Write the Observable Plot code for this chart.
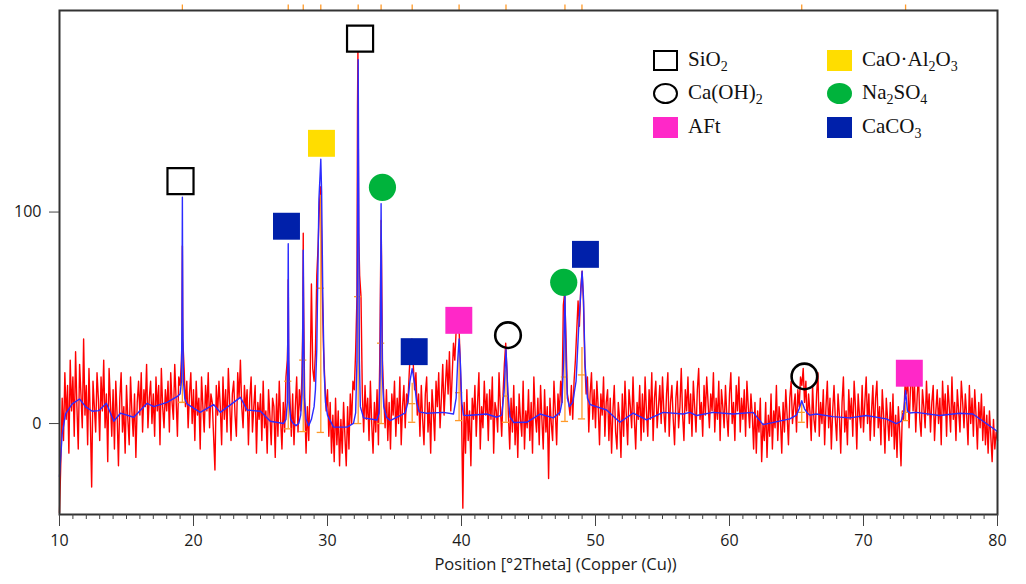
<!DOCTYPE html>
<html><head><meta charset="utf-8">
<script src="https://cdn.jsdelivr.net/npm/d3@7"></script>
<script src="https://cdn.jsdelivr.net/npm/@observablehq/plot@0.6"></script>
<style>
body{margin:0;background:#fff}
#wrap{position:relative;width:1026px;height:584px;overflow:hidden}
.lgt{position:absolute;font-family:"Liberation Serif","Times New Roman",serif;font-size:21px;color:#111;line-height:26px;height:26px;white-space:nowrap}
.lgt sub{font-size:14px;vertical-align:-5px;line-height:0}
.sym{position:absolute;box-sizing:border-box}
</style></head><body><div id="wrap"></div>
<script>
// ---- Data ----
const xTicks = [10, 20, 30, 40, 50, 60, 70, 80];
const yTicks = [0, 100];
const xLabel = "Position [°2Theta] (Copper (Cu))";

// measured (red) pattern, 10.0° to 80.0° every 0.1°
const redStart = 10, redStep = 0.1;
const redY = [
-42,-18,12,-8,24,2,18,-14,30,6,
22,-6,34,8,-12,28,14,-2,40,4,
18,-10,26,2,-30,20,8,-4,24,12,
-8,22,6,30,-2,14,-18,26,10,-6,
16,-12,20,4,-20,12,24,-4,8,-14,
18,2,-10,22,6,-6,14,-16,10,20,
4,24,-4,16,8,28,-2,12,20,0,
14,-6,22,6,18,-10,26,8,-2,16,
6,20,-4,24,10,2,28,12,-6,22,
18,30,40,26,8,20,-2,14,24,0,
16,-8,20,4,12,-12,22,8,-4,18,
6,24,-2,14,10,-6,-22,18,4,20,
8,-10,22,2,16,-4,26,10,-8,14,
20,4,-6,24,12,30,8,-2,18,6,
16,-10,12,22,-4,8,18,-14,10,2,
14,-8,20,-2,6,-14,16,4,-10,12,
8,-16,14,-6,20,2,-12,10,-4,22,
30,30,12,-6,14,-10,8,22,-4,16,
6,24,70,10,-14,8,-8,18,66,26,
20,34,70,84,104,112,66,36,20,6,
16,-6,10,-14,4,-18,12,-10,6,-20,
2,-14,10,-6,-20,8,-12,14,0,20,
16,34,60,130,70,60,14,-4,18,2,
12,-8,20,0,-14,10,-4,16,-10,30,
96,30,12,-2,16,-8,10,-12,14,4,
20,-6,12,0,22,-10,8,18,-2,14,
10,24,36,40,28,16,24,4,14,-6,
18,2,-10,14,22,-4,10,-14,16,6,
-8,20,8,24,-2,12,28,4,18,30,
14,34,6,22,38,30,44,54,48,30,
8,-40,10,-14,16,-8,6,-20,12,2,
18,-6,10,24,-12,8,-2,20,4,14,
-8,16,2,22,-14,10,6,-4,24,8,
-6,14,28,38,24,4,-12,12,-4,18,
-10,8,-16,14,2,-6,20,-12,6,-2,
16,-8,10,-14,22,4,-4,12,-10,18,
2,-12,16,-4,8,-26,12,0,-8,20,
6,-10,14,4,20,10,56,62,40,14,
10,4,18,2,20,30,44,58,46,64,
72,58,30,14,22,-4,14,24,2,16,
-2,20,8,-10,14,4,22,-6,10,16,
-8,12,-14,6,18,-4,-12,10,2,-16,
14,-6,20,4,-10,16,8,-2,22,2,
-12,10,2,18,-8,14,-4,22,6,-6,
16,2,24,-8,12,20,-2,8,18,0,
22,6,-4,14,24,-6,10,18,2,-10,
12,20,-2,8,26,4,-8,16,6,22,
0,14,-6,20,8,-4,16,26,2,10,
-6,18,4,22,10,-2,14,6,24,-4,
12,2,20,-8,16,8,-2,18,4,-6,
14,24,0,10,-8,18,6,22,-4,12,
2,16,-6,20,8,-2,14,4,-12,10,
-14,6,-4,12,-18,0,-8,10,-16,4,
-6,14,-12,6,-2,18,-8,8,2,-14,
10,-4,16,4,-10,12,20,0,8,14,
-4,16,8,22,18,26,10,20,-2,14,
6,-8,18,2,-4,14,24,-6,10,0,
16,-10,8,20,-2,12,-12,6,18,2,
-8,14,4,-14,10,22,-4,6,-10,16,
2,12,-6,20,8,-12,14,4,-2,18,
-4,10,22,0,14,-8,6,18,-6,12,
20,-2,8,-10,16,4,-14,12,2,-8,
10,-6,14,-12,4,-16,8,-4,-20,6,
2,18,14,22,-2,16,28,6,20,-4,
12,24,2,-6,16,8,-2,20,4,14,
-4,10,18,-8,6,16,0,12,-10,20,
4,14,-6,18,8,-4,22,2,10,-8,
16,6,-4,20,10,-2,14,4,-10,18,
0,12,-6,16,4,-12,10,-2,14,-8,
8,-10,4,-14,6,-6,-18,2,-12,-4,
-8];
// extra measured points on the sharp peaks
const redPeakX = [19.14, 19.17, 19.19, 27.04, 27.07, 27.09, 28.16, 28.19, 28.22, 32.24, 32.27, 32.33, 33.96, 34.03];
const redPeakY = [40, 84, 55, 40, 68, 45, 50, 90, 55, 150, 176, 90, 70, 80];

// fitted (blue) profile
const bluePts = [
[10.0,-25],[10.2,-5],[10.45,4.6],[10.95,9.3],[11.5,11.6],[11.94,8],[12.44,5.8],[12.93,6.1],[13.5,9.6],[14.05,1.1],
[14.55,4.9],[15.54,3],[16.54,9.6],[17.03,8],[18.03,10],[18.77,12.7],[19.0,14],[19.1,20],[19.14,50],[19.17,107],
[19.2,50],[19.25,20],[19.35,12],[19.52,9.3],[20.5,5.3],[21.5,9],[22.0,5.3],[23.5,12.4],[24.0,6.4],[25.0,5.8],
[25.73,1.1],[26.72,0],[26.9,2],[27.0,10],[27.04,40],[27.07,85],[27.1,40],[27.14,10],[27.25,2],[27.45,0],
[27.65,-1],[27.85,0],[28.0,4],[28.1,14],[28.15,40],[28.19,82],[28.23,40],[28.28,12],[28.4,2],[28.6,-1],
[28.8,2],[29.0,8],[29.1,16],[29.2,35],[29.3,80],[29.36,106],[29.45,118],[29.5,125],[29.56,110],[29.65,60],
[29.75,25],[29.85,10],[30.0,4],[30.2,1.4],[30.45,-1.7],[31.45,-1.7],[31.94,0.1],[32.1,5],[32.2,30],[32.25,110],
[32.29,172],[32.33,110],[32.38,30],[32.45,8],[32.69,2.7],[33.69,1.7],[33.85,5],[33.93,25],[33.97,70],[34.0,104],
[34.04,60],[34.1,22],[34.2,8],[34.4,3],[34.68,1.4],[35.42,3.8],[35.8,5],[36.0,10],[36.15,20],[36.32,26],
[36.5,19],[36.65,10],[36.85,5.5],[37.4,4.9],[38.65,5.3],[39.4,4.5],[39.6,12],[39.72,30],[39.82,40],[39.92,28],
[40.02,10],[40.15,4],[40.4,3.8],[41.88,4.5],[42.63,3],[43.0,4],[43.18,15],[43.32,35],[43.46,15],[43.62,3],
[43.9,0.5],[44.87,0.6],[45.86,4.5],[46.85,2.7],[47.35,5.3],[47.5,10],[47.62,30],[47.72,62],[47.8,30],[47.9,12],
[48.05,8],[48.3,10],[48.55,20],[48.75,46],[48.9,62],[49.0,72],[49.1,60],[49.22,28],[49.4,12],[49.6,9],
[49.83,8.5],[50.83,6.4],[51.82,0.6],[52.81,4.9],[53.81,1.7],[55.05,5.3],[56.54,4.5],[57.04,5.3],[57.54,3.8],[58.78,5.3],
[60.27,4.5],[61.76,5.3],[62.51,-0.5],[64.5,2.2],[65.0,4],[65.2,7],[65.39,10.8],[65.6,7],[65.8,5],[66.0,4],
[66.48,4.5],[67.72,3.3],[68.97,2.7],[70.21,3.8],[71.7,2.2],[72.44,0],[72.8,1],[73.0,5],[73.14,15.6],[73.28,6],
[73.45,5],[73.94,5.3],[75.67,3.8],[77.17,4.9],[78.16,4.5],[79.9,-3.3],[80,-4]];

// reference pattern sticks (orange)
const stickX      = [19.17, 27.07, 28.19, 29.5, 32.29, 34.0, 36.32, 39.82, 43.32, 47.72, 48.99, 65.39, 73.14];
const stickBottom = [10, -2.5, -3.8, -4.2, 0, 0, 0.6, 1.4, 0.6, 1, 2.2, 0.6, 1.4];
const stickMid    = [10, 20, 30, 64, 60, 38, 9.4, 14.6, 13, 22, 23, 5.3, 5.3];
const stickTop    = [50, 38, 60, 108, 120, 95, 19, 34, 25, 59, 36, 10, 10];

// phase markers
const markerPhase = ["SiO2","CaCO3","CaO·Al2O3","SiO2","Na2SO4","CaCO3","AFt","Ca(OH)2","Na2SO4","CaCO3","Ca(OH)2","AFt"];
const markerX = [19.03, 26.94, 29.55, 32.43, 34.1, 36.47, 39.8, 43.47, 47.63, 49.25, 65.59, 73.42];
const markerY = [114.6, 93.3, 132.5, 182, 111.7, 34, 48.8, 41.8, 66.8, 80, 22.3, 23.8];

// legend
const legendPhases = ["SiO2","Ca(OH)2","AFt","CaO·Al2O3","Na2SO4","CaCO3"];
const legendHtml = ["SiO<sub>2</sub>","Ca(OH)<sub>2</sub>","AFt","CaO·Al<sub>2</sub>O<sub>3</sub>","Na<sub>2</sub>SO<sub>4</sub>","CaCO<sub>3</sub>"];

// styles per phase
const phaseStyle = {
  "SiO2":      {symbol:"square", fill:"#ffffff", stroke:"#000000", r:14.7, sw:2.2},
  "Ca(OH)2":   {symbol:"circle", fill:"none",    stroke:"#000000", r:12.8, sw:2.6},
  "AFt":       {symbol:"square", fill:"#ff28c8", stroke:"none",    r:15.2, sw:0},
  "CaO·Al2O3": {symbol:"square", fill:"#ffdd00", stroke:"none",    r:15.2, sw:0},
  "Na2SO4":    {symbol:"circle", fill:"#00b33c", stroke:"none",    r:13.6, sw:0},
  "CaCO3":     {symbol:"square", fill:"#0020aa", stroke:"none",    r:15.2, sw:0}
};

// ---- Build tables ----
const red = redY.map((y, i) => ({x: +(redStart + i * redStep).toFixed(2), y}));
redPeakX.forEach((x, i) => red.push({x, y: redPeakY[i]}));
red.sort((a, b) => a.x - b.x);
const blue = bluePts.map(([x, y]) => ({x, y}));
const sticks = stickX.map((x, i) => ({x, b: stickBottom[i], m: stickMid[i], t: stickTop[i]}));
const markers = markerPhase.map((p, i) => ({p, x: markerX[i], y: markerY[i]}));
const orange = "#ff9a2a";
const yMax = 195.3;

const markerMarks = Object.keys(phaseStyle).map(p => {
  const s = phaseStyle[p];
  return Plot.dot(markers.filter(d => d.p === p), {
    x: "x", y: "y", symbol: s.symbol, r: s.r, fill: s.fill,
    stroke: s.stroke, strokeWidth: s.sw
  });
});

const chart = Plot.plot({
  width: 1026, height: 584,
  marginLeft: 59, marginRight: 29, marginTop: 10, marginBottom: 70,
  x: {domain: [10, 80]},
  y: {domain: [-43, yMax]},
  style: {fontFamily: "'Open Sans', sans-serif", fontSize: "16px", color: "#1a1a1a", background: "#ffffff", overflow: "visible"},
  marks: [
    Plot.line(red, {x: "x", y: "y", stroke: "#ff0000", strokeWidth: 1.4}),
    Plot.ruleX(sticks, {x: "x", y1: "b", y2: "t", stroke: orange, strokeWidth: 1.3}),
    Plot.ruleY(sticks, {y: "b", x1: d => d.x - 0.27, x2: d => d.x + 0.27, stroke: orange, strokeWidth: 1.3}),
    Plot.ruleY(sticks, {y: "m", x1: d => d.x - 0.27, x2: d => d.x + 0.27, stroke: orange, strokeWidth: 1.3}),
    Plot.line(blue, {x: "x", y: "y", stroke: "#2b2bff", strokeWidth: 1.4}),
    Plot.ruleX(stickX, {x: d => d, y1: yMax, y2: yMax + 2.6, stroke: orange, strokeWidth: 1.3}),
    Plot.frame({stroke: "#333333", strokeWidth: 2}),
    Plot.axisX({ticks: d3.range(10, 81, 1), tickSize: 5, tickFormat: () => "", stroke: "#444", label: null}),
    Plot.axisX({ticks: xTicks, tickSize: 12, tickPadding: 8, stroke: "#444", label: null, fontSize: 16}),
    Plot.axisY({ticks: yTicks, tickSize: 10, tickPadding: 8, stroke: "#444", label: null, fontSize: 16}),
    Plot.text([xLabel], {text: d => d, frameAnchor: "bottom", dx: 27, dy: 55, fontSize: 16.5, fill: "#1a1a1a"}),
    ...markerMarks
  ]
});

const wrap = document.getElementById("wrap");
wrap.appendChild(chart);

// ---- Legend (HTML overlay inside the plot frame) ----
const colSym = [653, 827], colText = [688, 862], rowC = [60, 93, 127];
legendPhases.forEach((p, i) => {
  const col = Math.floor(i / 3), row = i % 3;
  const s = phaseStyle[p];
  const sym = document.createElement("div");
  sym.className = "sym";
  const w = 25, h = 21;
  sym.style.left = colSym[col] + "px";
  sym.style.top = (rowC[row] - h / 2) + "px";
  sym.style.width = w + "px";
  sym.style.height = h + "px";
  if (s.fill !== "none" && s.fill !== "#ffffff") sym.style.background = s.fill;
  if (s.stroke !== "none") sym.style.border = "2px solid " + s.stroke;
  if (s.symbol === "circle") sym.style.borderRadius = "50%";
  wrap.appendChild(sym);
  const t = document.createElement("div");
  t.className = "lgt";
  t.style.left = colText[col] + "px";
  t.style.top = (rowC[row] - 14) + "px";
  t.innerHTML = legendHtml[i];
  wrap.appendChild(t);
});
</script></body></html>
